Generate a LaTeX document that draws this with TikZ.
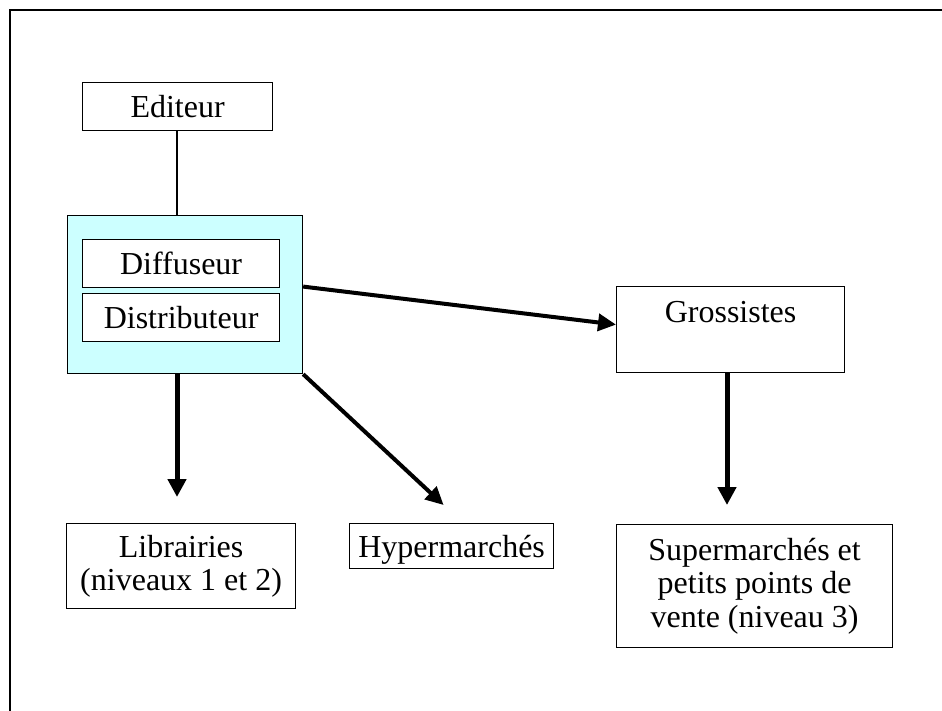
\documentclass[tikz,border=0pt]{standalone}
\usepackage{fontspec}
\setmainfont{Liberation Serif}
\usetikzlibrary{arrows.meta,calc}
\definecolor{lightcyan}{RGB}{204,255,255}
\begin{document}
\begin{tikzpicture}[x=1pt,y=-1pt,
  box/.style={draw=black, line width=1.2pt, fill=white, inner sep=0pt, anchor=north west, align=center,
    font=\fontsize{32}{33.5}\selectfont},
  oneline/.style={box, text height=22pt, text depth=0pt},
  bluebox/.style={box, fill=lightcyan},
  thinline/.style={line width=1.1pt},
  bigarrow/.style={line width=4pt, -{Triangle[length=18pt,width=17pt]}},
  downarrow/.style={line width=5pt, -{Triangle[length=18pt,width=18pt]}}]
\useasboundingbox (0,0) rectangle (942,710);
% frame
\draw[line width=2pt] (10,730) -- (10,10) -- (960,10);
% nodes
\node[oneline, minimum width=190, minimum height=48] (ed) at (82,82) {Editeur};
\node[bluebox, minimum width=235, minimum height=158] (bl) at (67,215) {};
\node[oneline, minimum width=197, minimum height=48] (di) at (82,239) {Diffuseur};
\node[oneline, minimum width=197, minimum height=48] (ds) at (82,293) {Distributeur};
\node[box, minimum width=228, minimum height=86,
  label={[font=\fontsize{32}{33.5}\selectfont, anchor=base, yshift=-36pt]north:Grossistes}] (gr) at (616,286) {};
\node[box, minimum width=229, minimum height=85] (li) at (66,523) {Librairies\\(niveaux 1 et 2)};
\node[oneline, minimum width=204, minimum height=45] (hy) at (349,523) {Hypermarchés};
\node[box, minimum width=276, minimum height=123] (su) at (616,524) {Supermarchés et\\petits points de\\vente (niveau 3)};
% connectors
\draw[thinline] (ed.south -| 177,0) -- (bl.north -| 177,0);
\draw[bigarrow] ([yshift=8pt]bl.east) -- ([yshift=5pt]gr.west);
\draw[bigarrow] (bl.south east) -- ($(hy.north)+(-8,-18)$);
\draw[downarrow] (bl.south -| 177,0) -- ($(li.north -| 177,0)+(0,-26)$);
\draw[downarrow] (gr.south -| 727,0) -- ($(su.north -| 727,0)+(0,-19)$);
\end{tikzpicture}
\end{document}
